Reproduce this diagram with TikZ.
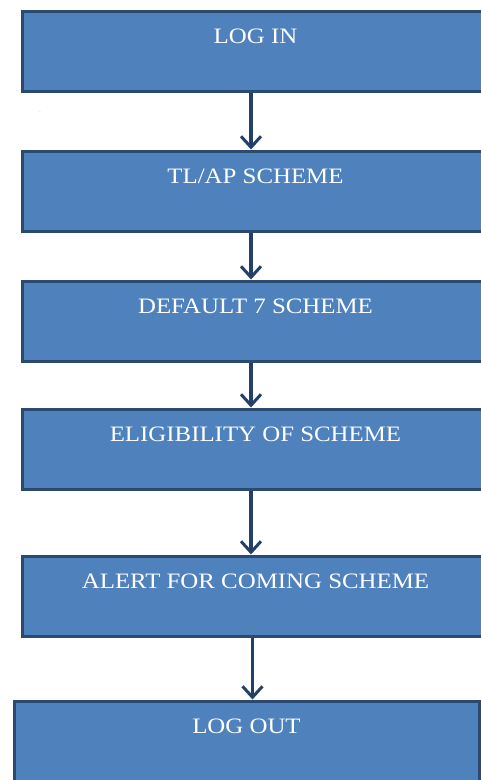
\documentclass[tikz,border=0pt]{standalone}
\usepackage{fontspec}
\setmainfont[FakeStretch=1.13]{Liberation Serif}
\usetikzlibrary{arrows.meta}
\definecolor{boxfill}{HTML}{4F81BD}
\definecolor{boxline}{HTML}{2C4A70}
\definecolor{arrowline}{HTML}{24406A}

\begin{document}
\begin{tikzpicture}[x=1pt, y=-1pt,
  stage/.style={draw=boxline, line width=3pt, fill=boxfill, text=white,
    anchor=north west, inner ysep=0pt, text height=32pt, text depth=48pt,
    font=\fontsize{22}{26}\selectfont},
  flow/.style={draw=arrowline, line width=3.5pt,
    -{Straight Barb[length=11pt, width=20pt, line width=3pt]}}]
% Fix the page to the size of the picture
\useasboundingbox (0,0) rectangle (481,780);
% Boxes of the flow, top to bottom
\node [stage, minimum width=467pt] (login) at (20.5,9.5) {LOG IN};
\node [stage, minimum width=467pt] (tlap) at (20.5,149.5) {TL/AP SCHEME};
\node [stage, minimum width=467pt] (default) at (20.5,279.5) {DEFAULT 7 SCHEME};
\node [stage, minimum width=467pt] (eligible) at (20.5,407.5) {ELIGIBILITY OF SCHEME};
\node [stage, minimum width=467pt] (alert) at (20.5,554.5) {ALERT FOR COMING SCHEME};
\node [stage, minimum width=465pt] (logout) at (12.5,699.5) {LOG OUT};
% Stray dot left of the first arrow
\node [font=\tiny, text=gray, inner sep=0pt] (stray) at (40,112) {.};
% Arrows between the boxes
\draw [flow] ([xshift=-4.5pt]login.south) -- ([xshift=-4.5pt]tlap.north);
\draw [flow] ([xshift=-4.5pt]tlap.south) -- ([xshift=-4.5pt]default.north);
\draw [flow] ([xshift=-4.5pt]default.south) -- ([xshift=-4.5pt]eligible.north);
\draw [flow] ([xshift=-4.5pt]eligible.south) -- ([xshift=-4.5pt]alert.north);
\draw [flow] ([xshift=-3pt]alert.south) -- ([xshift=-3pt]alert.south |- logout.north);
\end{tikzpicture}
\end{document}
